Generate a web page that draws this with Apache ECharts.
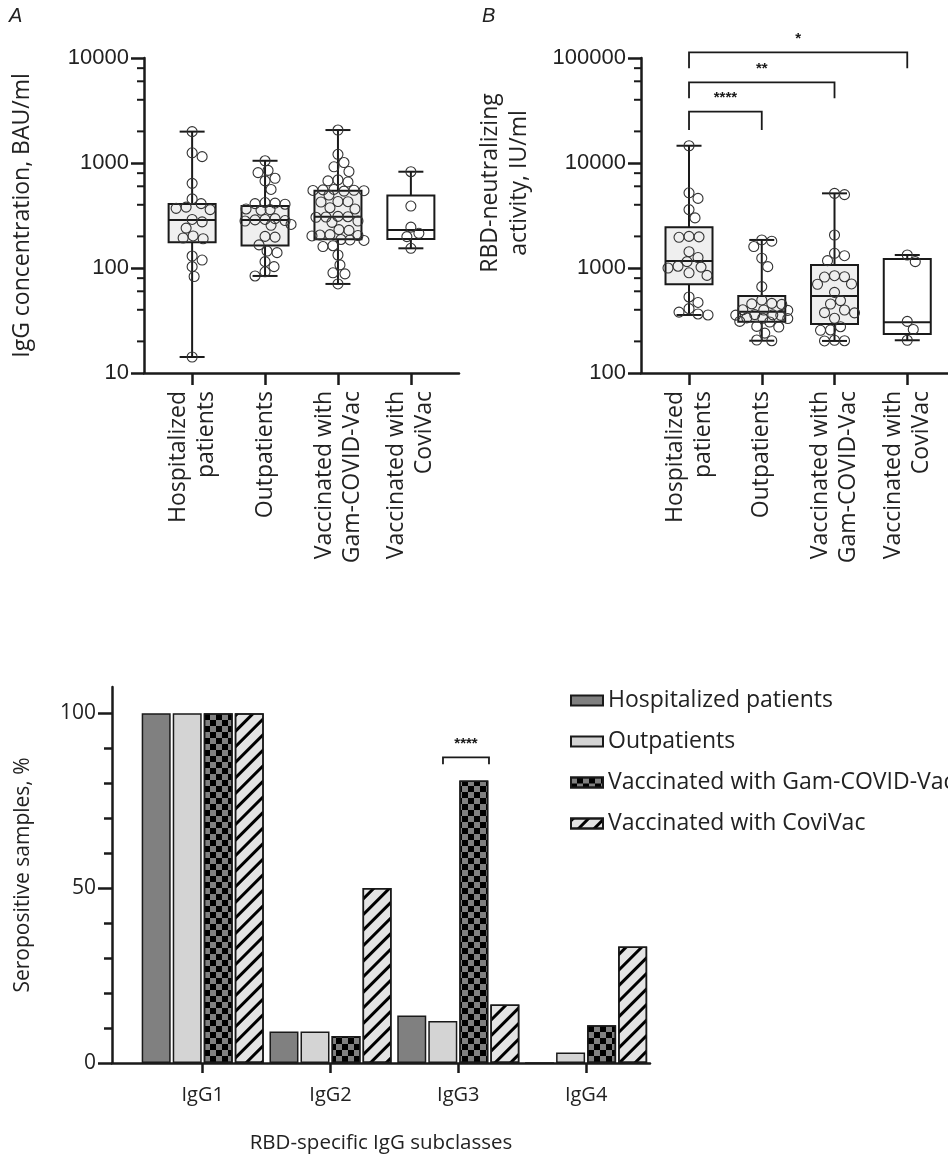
<!DOCTYPE html>
<html><head><meta charset="utf-8">
<script src="https://cdn.jsdelivr.net/npm/echarts@6/dist/echarts.min.js"></script>
<style>html,body{margin:0;padding:0;background:#fff}#c{width:948px;height:1163px}</style>
</head><body><div id="c"></div>
<script>
// ---------- categories ----------
const groupLabels = ['Hospitalized\npatients', 'Outpatients', 'Vaccinated with\nGam-COVID-Vac', 'Vaccinated with\nCoviVac'];
const groupNames = ['Hospitalized patients', 'Outpatients', 'Vaccinated with Gam-COVID-Vac', 'Vaccinated with CoviVac'];
const subclasses = ['IgG1', 'IgG2', 'IgG3', 'IgG4'];

// ---------- Panel A: IgG concentration, BAU/ml ----------
const hospA = [1990, 1250, 1150, 640, 455, 410, 380, 370, 360, 290, 275, 240, 202, 193, 190, 130, 119, 103, 83, 14.2];
const outA = [1050, 850, 810, 715, 675, 560, 420, 415, 410, 405, 365, 360, 355, 295, 290, 287, 283, 280, 260, 255, 200, 197, 166, 145, 140, 115, 103, 92, 84];
const gamA = [2060, 1210, 1010, 920, 830, 690, 675, 660, 560, 555, 550, 548, 545, 540, 495, 430, 428, 425, 375, 365, 310, 308, 306, 304, 280, 272, 232, 228, 208, 206, 204, 202, 187, 185, 183, 163, 160, 133, 107, 90, 88, 70.5];
const coviA = [826, 389, 245, 214, 199, 154];
// box stats [min, Q1, median, Q3, max]
const boxA = [[14.2, 176, 287, 407, 1990], [84, 164, 287, 389, 1050], [70.5, 188, 308, 545, 2060], [154, 189, 230, 489, 826]];
const yTicksA = [10, 100, 1000, 10000];
const minorA = [20, 40, 60, 80, 200, 400, 600, 800, 2000, 4000, 6000, 8000];

// ---------- Panel B: RBD-neutralizing activity, IU/ml ----------
const hospB = [14600, 5200, 4600, 3600, 3000, 2000, 1980, 1960, 1430, 1260, 1150, 1040, 1020, 1000, 900, 850, 530, 470, 410, 380, 365, 357];
const outB = [1850, 1800, 1600, 1240, 1030, 665, 495, 460, 455, 450, 400, 398, 395, 360, 358, 356, 354, 335, 332, 330, 310, 306, 278, 274, 240, 206, 203];
const gamB = [5140, 5000, 2060, 1380, 1310, 1175, 845, 826, 820, 705, 700, 586, 489, 454, 398, 376, 374, 332, 276, 257, 255, 205, 203, 202];
const coviB = [1330, 1150, 310, 260, 205];
const boxB = [[357, 699, 1166, 2445, 14600], [203, 308, 384, 541, 1850], [202, 293, 541, 1068, 5140], [205, 235, 304, 1219, 1330]];
const yTicksB = [100, 1000, 10000, 100000];
const minorB = [200, 400, 600, 800, 2000, 4000, 6000, 8000, 20000, 40000, 60000, 80000];
// significance brackets: [fromGroup, toGroup, bracketLevel, legEnd, label]
const sigB = [[0, 3, 113000, 79800, '*'], [0, 2, 58700, 41300, '**'], [0, 1, 30800, 20600, '****']];

// ---------- Panel C: seropositive samples, % ----------
const serHosp = [100, 9, 13.6, 0];
const serOut = [100, 9, 12, 3];
const serGam = [100, 7.7, 80.8, 10.8];
const serCovi = [100, 50, 16.7, 33.3];
const yTicksC = [0, 50, 100];
const minorC = [0, 10, 20, 30, 40, 50, 60, 70, 80, 90, 100];
const sigC = [[1.88, 2.24, 87.4, 85.4, '****']];

// ---------- helpers ----------
const chart = echarts.init(document.getElementById('c'), null, { renderer: 'canvas' });
const INK = '#1a1a1a';
const TXT = '#222';
const GEO = '"Open Sans", "Noto Sans", sans-serif';
const SANS = '"Liberation Sans", Arial, sans-serif';
const boxFill = ['#efefef', '#efefef', '#efefef', '#ffffff'];

function toPts(arrs) {
  const out = [];
  arrs.forEach((a, g) => a.forEach(v => out.push([g, v])));
  return out;
}
function swarmRender(pts, diam, maxOff) {
  return function (params, api) {
    const ctx = params.context;
    if (!ctx.off) {
      ctx.off = [];
      const byCat = {};
      pts.forEach((p, i) => { (byCat[p[0]] = byCat[p[0]] || []).push(i); });
      Object.keys(byCat).forEach(k => {
        const idx = byCat[k].slice().sort((a, b) => pts[b][1] - pts[a][1]);
        const placed = [];
        idx.forEach(i => {
          const y = api.coord([pts[i][0], pts[i][1]])[1];
          let best = 0, bestScore = -Infinity;
          for (let s = 0; s <= 2 * maxOff; s++) {
            const cand = s === 0 ? 0 : (s % 2 ? 1 : -1) * Math.ceil(s / 2);
            let minD = Infinity;
            placed.forEach(q => { const d = Math.hypot(q[0] - cand, q[1] - y); if (d < minD) minD = d; });
            if (minD >= diam) { best = cand; break; }
            if (minD > bestScore) { bestScore = minD; best = cand; }
          }
          placed.push([best, y]);
          ctx.off[i] = best;
        });
      });
    }
    const c = api.coord([api.value(0), api.value(1)]);
    return { type: 'circle', z2: 5, shape: { cx: c[0] + ctx.off[params.dataIndex], cy: c[1], r: 5 },
      style: { fill: 'none', stroke: '#333', lineWidth: 1.1 } };
  };
}
function boxRender(params, api) {
  const g = api.value(0);
  const half = 23.5, cap = 12.5;
  const pMin = api.coord([g, api.value(1)]);
  const pQ1 = api.coord([g, api.value(2)]);
  const pMed = api.coord([g, api.value(3)]);
  const pQ3 = api.coord([g, api.value(4)]);
  const pMax = api.coord([g, api.value(5)]);
  const x = pMin[0];
  const ls = { stroke: INK, lineWidth: 2 };
  return { type: 'group', children: [
    { type: 'line', shape: { x1: x, y1: pMax[1], x2: x, y2: pMin[1] }, style: ls },
    { type: 'line', shape: { x1: x - cap, y1: pMax[1], x2: x + cap, y2: pMax[1] }, style: ls },
    { type: 'line', shape: { x1: x - cap, y1: pMin[1], x2: x + cap, y2: pMin[1] }, style: ls },
    { type: 'rect', shape: { x: x - half, y: pQ3[1], width: half * 2, height: pQ1[1] - pQ3[1] }, style: { fill: boxFill[g], stroke: INK, lineWidth: 2 } },
    { type: 'line', shape: { x1: x - half, y1: pMed[1], x2: x + half, y2: pMed[1] }, style: ls }
  ] };
}
function minorTickRender(xAt, len) {
  return function (params, api) {
    const c = api.coord([xAt, api.value(0)]);
    return { type: 'line', shape: { x1: c[0] - len, y1: c[1], x2: c[0], y2: c[1] }, style: { stroke: INK, lineWidth: 2 } };
  };
}
function bracketRender(params, api) {
  const a = api.coord([api.value(0), api.value(2)]);
  const b = api.coord([api.value(1), api.value(2)]);
  const legA = api.coord([api.value(0), api.value(3)]);
  const label = api.value(4);
  return { type: 'group', children: [
    { type: 'polyline', shape: { points: [[a[0], legA[1]], [a[0], a[1]], [b[0], b[1]], [b[0], legA[1]]] }, style: { fill: 'none', stroke: INK, lineWidth: 1.8 } },
    { type: 'text', style: { text: label, x: (a[0] + b[0]) / 2, y: a[1] - 6, align: 'center', verticalAlign: 'bottom', font: 'bold 15px "Liberation Sans", Arial', fill: INK } }
  ] };
}

const A_MIN = -0.66, A_MAX = 3.66, B_MIN = -0.66, B_MAX = 3.56, C_MIN = -0.71, C_MAX = 3.5;

function catXAxis(gridIndex, mn, mx) {
  return {
    type: 'value', gridIndex, min: mn, max: mx,
    splitLine: { show: false },
    axisLine: { show: true, onZero: false, lineStyle: { color: INK, width: 2.5 } },
    axisTick: { show: true, customValues: [0, 1, 2, 3], length: 12, lineStyle: { color: INK, width: 2.5 } },
    axisLabel: { customValues: [0, 1, 2, 3], rotate: 90, margin: 18, fontFamily: GEO, fontSize: 23, lineHeight: 28, color: TXT,
      formatter: v => groupLabels[Math.round(v)] }
  };
}
function logYAxis(gridIndex, mn, mx, name) {
  return {
    type: 'log', logBase: 10, gridIndex, min: mn, max: mx,
    splitLine: { show: false },
    axisLine: { show: true, onZero: false, lineStyle: { color: INK, width: 2.5 } },
    axisTick: { show: true, length: 13, lineStyle: { color: INK, width: 2.5 } },
    axisLabel: { margin: 15, fontFamily: SANS, fontSize: 22, color: TXT, formatter: v => String(Math.round(v)) },
    name: name, nameLocation: 'middle', nameGap: 110, nameTextStyle: { fontFamily: GEO, fontSize: 23, color: TXT }
  };
}

const option = {
  animation: false,
  backgroundColor: '#fff',
  grid: [
    { left: 144, top: 58, width: 315, height: 315 },
    { left: 641, top: 58, width: 310, height: 315 },
    { left: 112, top: 687, width: 538, height: 376 }
  ],
  legend: {
    data: groupNames, orient: 'vertical', left: 565, top: 684, itemWidth: 32, itemHeight: 10, itemGap: 18,
    textStyle: { fontFamily: GEO, fontSize: 23, color: TXT }, icon: 'rect', selectedMode: false
  },
  xAxis: [
    catXAxis(0, A_MIN, A_MAX),
    catXAxis(1, B_MIN, B_MAX),
    {
      type: 'value', gridIndex: 2, min: C_MIN, max: C_MAX,
      splitLine: { show: false },
      axisLine: { show: true, onZero: false, lineStyle: { color: INK, width: 2.5 } },
      axisTick: { show: true, customValues: [0, 1, 2, 3], length: 10, lineStyle: { color: INK, width: 2.5 } },
      axisLabel: { customValues: [0, 1, 2, 3], margin: 22, fontFamily: GEO, fontSize: 20, color: TXT, formatter: v => subclasses[Math.round(v)] },
      name: 'RBD-specific IgG subclasses', nameLocation: 'middle', nameGap: 70,
      nameTextStyle: { fontFamily: GEO, fontSize: 20.5, color: TXT }
    }
  ],
  yAxis: [
    logYAxis(0, 10, 10000, 'IgG concentration, BAU/ml'),
    logYAxis(1, 100, 100000, ''),
    {
      type: 'value', gridIndex: 2, min: 0, max: 107.5,
      splitLine: { show: false },
      axisLine: { show: true, onZero: false, lineStyle: { color: INK, width: 2.5 } },
      axisTick: { show: true, customValues: minorC, length: 8, lineStyle: { color: INK, width: 2.5 } },
      axisLabel: { customValues: yTicksC, margin: 16, fontFamily: GEO, fontSize: 21, color: TXT },
      name: 'Seropositive samples, %', nameLocation: 'middle', nameGap: 78,
      nameTextStyle: { fontFamily: GEO, fontSize: 21, color: TXT }
    },
    {
      type: 'value', gridIndex: 2, min: 0, max: 107.5, position: 'left',
      splitLine: { show: false }, axisLine: { show: false, onZero: false },
      axisTick: { show: true, customValues: yTicksC, length: 14, lineStyle: { color: INK, width: 2.5 } },
      axisLabel: { show: false }
    }
  ],
  graphic: [
    { type: 'text', left: 9, top: 6, style: { text: 'A', font: 'italic 20px "Liberation Sans", Arial', fill: TXT } },
    { type: 'text', left: 482, top: 6, style: { text: 'B', font: 'italic 20px "Liberation Sans", Arial', fill: TXT } },
    { type: 'text', x: 505, y: 183, rotation: Math.PI / 2,
      style: { text: 'RBD-neutralizing\nactivity, IU/ml', align: 'center', verticalAlign: 'middle', font: '23px "Open Sans", "Noto Sans", sans-serif', lineHeight: 29, fill: TXT } }
  ],
  series: [
    // Panel A
    { type: 'custom', xAxisIndex: 0, yAxisIndex: 0, renderItem: boxRender, data: boxA.map((b, i) => [i].concat(b)), z: 2 },
    { type: 'custom', xAxisIndex: 0, yAxisIndex: 0, renderItem: swarmRender(toPts([hospA, outA, gamA, coviA]), 10, 26), data: toPts([hospA, outA, gamA, coviA]), z: 3 },
    { type: 'custom', xAxisIndex: 0, yAxisIndex: 0, renderItem: minorTickRender(A_MIN, 7), data: minorA.map(v => [v]), encode: { y: 0 }, z: 4 },
    // Panel B
    { type: 'custom', xAxisIndex: 1, yAxisIndex: 1, renderItem: boxRender, data: boxB.map((b, i) => [i].concat(b)), z: 2 },
    { type: 'custom', xAxisIndex: 1, yAxisIndex: 1, renderItem: swarmRender(toPts([hospB, outB, gamB, coviB]), 10, 26), data: toPts([hospB, outB, gamB, coviB]), z: 3 },
    { type: 'custom', xAxisIndex: 1, yAxisIndex: 1, renderItem: minorTickRender(B_MIN, 7), data: minorB.map(v => [v]), encode: { y: 0 }, z: 4 },
    { type: 'custom', xAxisIndex: 1, yAxisIndex: 1, renderItem: bracketRender, data: sigB, encode: { x: [0, 1], y: [2, 3] }, z: 4 },
    // Panel C
    { name: groupNames[0], type: 'bar', xAxisIndex: 2, yAxisIndex: 2, data: serHosp.map((v, i) => [i, v]), barWidth: 29, barGap: '7%',
      itemStyle: { color: '#808080', borderColor: INK, borderWidth: 1.5 } },
    { name: groupNames[1], type: 'bar', xAxisIndex: 2, yAxisIndex: 2, data: serOut.map((v, i) => [i, v]), barWidth: 29, barGap: '7%',
      itemStyle: { color: '#d4d4d4', borderColor: INK, borderWidth: 1.5 } },
    { name: groupNames[2], type: 'bar', xAxisIndex: 2, yAxisIndex: 2, data: serGam.map((v, i) => [i, v]), barWidth: 29, barGap: '7%',
      itemStyle: { color: '#808080', borderColor: INK, borderWidth: 1.5,
        decal: { symbol: 'rect', symbolSize: 1, color: '#000', dashArrayX: [[5.5, 5.5], [0, 5.5, 5.5, 0]], dashArrayY: [5.5, 0] } } },
    { name: groupNames[3], type: 'bar', xAxisIndex: 2, yAxisIndex: 2, data: serCovi.map((v, i) => [i, v]), barWidth: 29, barGap: '7%',
      itemStyle: { color: '#e4e4e4', borderColor: INK, borderWidth: 1.5,
        decal: { symbol: 'rect', symbolSize: 1, color: '#000', dashArrayX: [1, 0], dashArrayY: [3, 8], rotation: -Math.PI / 4 } } },
    { type: 'custom', xAxisIndex: 2, yAxisIndex: 2, renderItem: bracketRender, data: sigC, encode: { x: [0, 1], y: [2, 3] }, z: 4 }
  ]
};
chart.setOption(option);
</script></body></html>
